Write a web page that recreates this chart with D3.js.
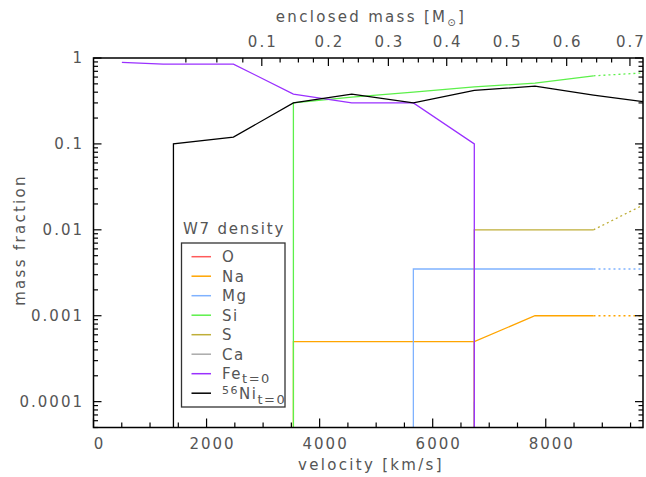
<!DOCTYPE html>
<html>
<head>
<meta charset="utf-8">
<script src="https://cdn.jsdelivr.net/npm/d3@7"></script>
<style>
  body { margin: 0; background: #fff; }
  text { font-family: "DejaVu Sans", sans-serif; fill: #555; }
</style>
</head>
<body>
<svg id="chart" width="646" height="477"></svg>
<script>
// tick values
var velTicks = [0, 2000, 4000, 6000, 8000];
var fracTicks = [1, 0.1, 0.01, 0.001, 0.0001];
var massLabels = [0.1, 0.2, 0.3, 0.4, 0.5, 0.6, 0.7];

// enclosed mass (Msun) vs velocity (km/s) for the top axis
var massGrid = [0.025, 0.05, 0.075, 0.1, 0.125, 0.15, 0.175, 0.2, 0.225, 0.25, 0.275, 0.3,
                0.325, 0.35, 0.375, 0.4, 0.425, 0.45, 0.475, 0.5, 0.525, 0.55, 0.575, 0.6,
                0.625, 0.65, 0.675, 0.7];
var velAtMass = [1634, 2182, 2641, 2977, 3301, 3624, 3890, 4155, 4420, 4685, 4950, 5216,
                 5481, 5746, 6011, 6248, 6513, 6779, 7044, 7309, 7574, 7839, 8105, 8370,
                 8635, 8900, 9165, 9489];

// abundance profiles (1e-8 = drops below the plot)
var oVel  = [6736, 6736];
var oFrac = [1e-8, 5e-4];
var naVel  = [3536, 3536, 6736, 7809, 8844];
var naFrac = [1e-8, 5e-4, 5e-4, 1e-3, 1e-3];
var naExtVel = [8844, 9720], naExtFrac = [1e-3, 1e-3];
var mgVel  = [5658, 5658, 8844];
var mgFrac = [1e-8, 0.0035, 0.0035];
var mgExtVel = [8844, 9720], mgExtFrac = [0.0035, 0.0035];
var siVel  = [3536, 3536, 4568, 5658, 6736, 7809, 8844];
var siFrac = [1e-8, 0.30, 0.35, 0.40, 0.46, 0.51, 0.62];
var siExtVel = [8844, 9720], siExtFrac = [0.62, 0.67];
var sVel  = [6736, 6736, 8844];
var sFrac = [1e-8, 0.01, 0.01];
var sExtVel = [8844, 9720], sExtFrac = [0.01, 0.0194];
var caVel  = [6736, 6736];
var caFrac = [1e-8, 1e-4];
var feVel  = [502, 1232, 2475, 3536, 4568, 5658, 6736, 6736];
var feFrac = [0.89, 0.85, 0.85, 0.38, 0.30, 0.30, 0.10, 1e-8];
var niVel  = [1414, 1414, 2475, 3536, 4568, 5658, 6736, 7809, 8844, 9720];
var niFrac = [1e-8, 0.10, 0.12, 0.30, 0.38, 0.30, 0.42, 0.47, 0.37, 0.31];

var series = [
  {name: "O",  color: "#ff5a5a", vel: oVel,  frac: oFrac},
  {name: "Na", color: "#ffa500", vel: naVel, frac: naFrac, extVel: naExtVel, extFrac: naExtFrac},
  {name: "Mg", color: "#7fb2ff", vel: mgVel, frac: mgFrac, extVel: mgExtVel, extFrac: mgExtFrac},
  {name: "Si", color: "#5cf04a", vel: siVel, frac: siFrac, extVel: siExtVel, extFrac: siExtFrac},
  {name: "S",  color: "#bfae38", vel: sVel,  frac: sFrac,  extVel: sExtVel,  extFrac: sExtFrac},
  {name: "Ca", color: "#aaaaaa", vel: caVel, frac: caFrac},
  {name: "Fe", color: "#9a30ff", vel: feVel, frac: feFrac},
  {name: "Ni", color: "#000000", vel: niVel, frac: niFrac}
];

var svg = d3.select("#chart");
// plot box (note: "top" is taken by window.top, so use pT etc.)
var pL = 93.5, pR = 643, pT = 58, pB = 427.5;

var x = d3.scaleLinear().domain([0, 9720]).range([pL, pR]);
var y = d3.scaleLog().domain([5e-5, 1]).range([pB, pT]);
var massToVel = d3.scaleLinear().domain(massGrid).range(velAtMass);

svg.append("clipPath").attr("id", "plotclip")
  .append("rect").attr("x", pL).attr("y", pT)
  .attr("width", pR - pL).attr("height", pB - pT);

var line = d3.line()
  .x(function(d) { return x(d[0]); })
  .y(function(d) { return y(d[1]); });

var plot = svg.append("g").attr("clip-path", "url(#plotclip)");

series.forEach(function(s) {
  var pts = s.vel.map(function(v, i) { return [v, s.frac[i]]; });
  plot.append("path")
    .attr("d", line(pts))
    .attr("fill", "none")
    .attr("stroke", s.color)
    .attr("stroke-width", 1.3);
  if (s.extVel) {
    var ext = s.extVel.map(function(v, i) { return [v, s.extFrac[i]]; });
    plot.append("path")
      .attr("d", line(ext))
      .attr("fill", "none")
      .attr("stroke", s.color)
      .attr("stroke-width", 1.3)
      .attr("stroke-dasharray", "2,3");
  }
});

// frame
svg.append("rect")
  .attr("x", pL).attr("y", pT)
  .attr("width", pR - pL).attr("height", pB - pT)
  .attr("fill", "none").attr("stroke", "#000").attr("stroke-width", 1.5);

// bottom velocity ticks
var velMinor = d3.range(0, 9720, 500);
svg.append("g").selectAll("line").data(velMinor).enter().append("line")
  .attr("x1", function(d) { return x(d); }).attr("x2", function(d) { return x(d); })
  .attr("y1", pB)
  .attr("y2", function(d) { return pB - (d % 2000 == 0 ? 9 : 5); })
  .attr("stroke", "#000").attr("stroke-width", 1.2);

svg.append("g").selectAll("text").data(velTicks).enter().append("text")
  .attr("x", function(d) { return x(d) + 6; })
  .attr("y", 449)
  .attr("text-anchor", "middle")
  .style("font-size", "15px")
  .style("letter-spacing", "2px")
  .text(function(d) { return d; });

// top mass ticks
svg.append("g").selectAll("line").data(massGrid).enter().append("line")
  .attr("x1", function(d) { return x(massToVel(d)); })
  .attr("x2", function(d) { return x(massToVel(d)); })
  .attr("y1", pT)
  .attr("y2", function(d, i) { return pT + ((i + 1) % 4 == 0 ? 8 : 4.5); })
  .attr("stroke", "#000").attr("stroke-width", 1.2);

svg.append("g").selectAll("text").data(massLabels).enter().append("text")
  .attr("x", function(d) { return x(massToVel(d)) + 1; })
  .attr("y", 47)
  .attr("text-anchor", "middle")
  .style("font-size", "15px")
  .style("letter-spacing", "2px")
  .text(function(d) { return d; });

// log ticks on left and right
var logMinor = [];
for (var e = -5; e <= 0; e++) {
  for (var m = 1; m < 10; m++) {
    var v = m * Math.pow(10, e);
    if (v >= 5e-5 && v <= 1.0001) logMinor.push(v);
  }
}
var yt = svg.append("g");
logMinor.forEach(function(v) {
  var major = Math.abs(Math.log10(v) - Math.round(Math.log10(v))) < 1e-6;
  var len = major ? 8 : 4.5;
  yt.append("line").attr("x1", pL).attr("x2", pL + len)
    .attr("y1", y(v)).attr("y2", y(v)).attr("stroke", "#000").attr("stroke-width", 1.2);
  yt.append("line").attr("x1", pR).attr("x2", pR - len)
    .attr("y1", y(v)).attr("y2", y(v)).attr("stroke", "#000").attr("stroke-width", 1.2);
});

svg.append("g").selectAll("text").data(fracTicks).enter().append("text")
  .attr("x", 84)
  .attr("y", function(d) { return y(d) + 5; })
  .attr("text-anchor", "end")
  .style("font-size", "15px")
  .style("letter-spacing", "2px")
  .text(function(d) { return d; });

// axis titles
svg.append("text").attr("x", 371).attr("y", 470).attr("text-anchor", "middle")
  .style("font-size", "15px").style("letter-spacing", "2.3px")
  .text("velocity [km/s]");

svg.append("text").attr("transform", "translate(25,240) rotate(-90)")
  .attr("text-anchor", "middle")
  .style("font-size", "15px").style("letter-spacing", "2.3px")
  .text("mass fraction");

var et = svg.append("text").attr("x", 371).attr("y", 22).attr("text-anchor", "middle")
  .style("font-size", "15px").style("letter-spacing", "2.3px");
et.append("tspan").text("enclosed mass [M");
et.append("tspan").attr("dy", 4).style("font-size", "10px").text("\u2299");
et.append("tspan").attr("dy", -4).text("]");

// legend
svg.append("text").attr("x", 234).attr("y", 234).attr("text-anchor", "middle")
  .style("font-size", "15px").style("letter-spacing", "1.8px")
  .text("W7 density");

svg.append("rect").attr("x", 181.5).attr("y", 243).attr("width", 103.5).attr("height", 164)
  .attr("fill", "#fff").attr("stroke", "#333").attr("stroke-width", 1.3);

var legend = svg.append("g").selectAll("g").data(series).enter().append("g")
  .attr("transform", function(d, i) { return "translate(0," + (256.7 + i * 19.5) + ")"; });

legend.append("line").attr("x1", 191.5).attr("x2", 211)
  .attr("stroke", function(d) { return d.color; }).attr("stroke-width", 1.5);

legend.each(function(d) {
  var t = d3.select(this).append("text").attr("x", 222).attr("y", 5.5)
    .style("font-size", "15px").style("letter-spacing", "1.5px");
  if (d.name == "Fe") {
    t.append("tspan").text("Fe");
    t.append("tspan").attr("dy", 4).style("font-size", "13px").text("t=0");
  } else if (d.name == "Ni") {
    t.append("tspan").attr("dy", -5).style("font-size", "11px").text("56");
    t.append("tspan").attr("dy", 5).text("Ni");
    t.append("tspan").attr("dy", 5).style("font-size", "13px").text("t=0");
  } else {
    t.text(d.name);
  }
});
</script>
</body>
</html>
